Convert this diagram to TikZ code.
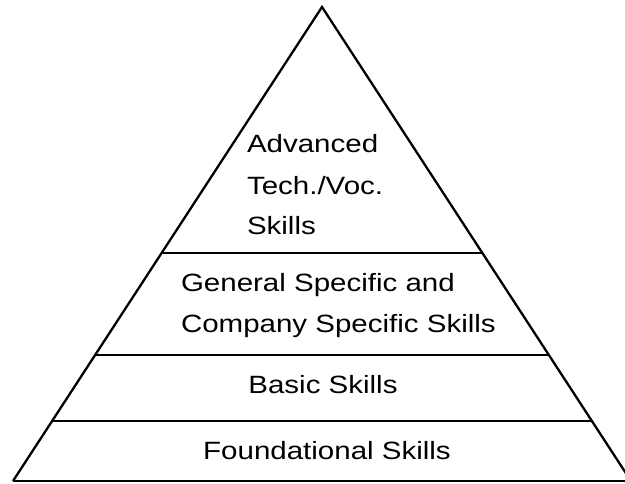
\documentclass[tikz,border=0pt]{standalone}
\usepackage{fontspec}
\setmainfont{Liberation Sans}
\usetikzlibrary{calc}
\begin{document}
\begin{tikzpicture}[x=1pt,y=-1pt,
  edge/.style={line width=2.3pt,line join=miter,line cap=butt},
  level/.style={line width=2pt},
  lbl/.style={inner sep=0pt,outer sep=0pt,xscale=1.18,font=\fontsize{25}{30}\selectfont}]
\useasboundingbox (0,0) rectangle (625,484);
\fill[white] (0,0) rectangle (625,484);
\clip (0,0) rectangle (625,484);
\coordinate (apex) at (322,7);
\coordinate (bl) at (13,481);
\coordinate (br) at (631,481);
% levels
\coordinate (l1) at ($(apex)!0.519!(bl)$);
\coordinate (r1) at ($(apex)!0.519!(br)$);
\coordinate (l2) at ($(apex)!0.734!(bl)$);
\coordinate (r2) at ($(apex)!0.734!(br)$);
\coordinate (l3) at ($(apex)!0.873!(bl)$);
\coordinate (r3) at ($(apex)!0.873!(br)$);
\draw[level] (l1) -- (r1);
\draw[level] (l2) -- (r2);
\draw[level] (l3) -- (r3);
\draw[edge] (bl) -- (apex) -- (br);
\draw[edge] (bl) -- (br);
% labels
\node[lbl,anchor=base west] (adv) at (247,153) {Advanced};
\node[lbl,anchor=base west] (tech) at (247,195) {Tech./Voc.};
\node[lbl,anchor=base west] (sk) at (247,235) {Skills};
\node[lbl,anchor=base west] (gen) at (181,292) {General Specific and};
\node[lbl,anchor=base west] (comp) at (181,333) {Company Specific Skills};
\node[lbl,anchor=base] (basic) at (323,393) {Basic Skills};
\node[lbl,anchor=base] (found) at (327,460) {Foundational Skills};
\end{tikzpicture}
\end{document}
